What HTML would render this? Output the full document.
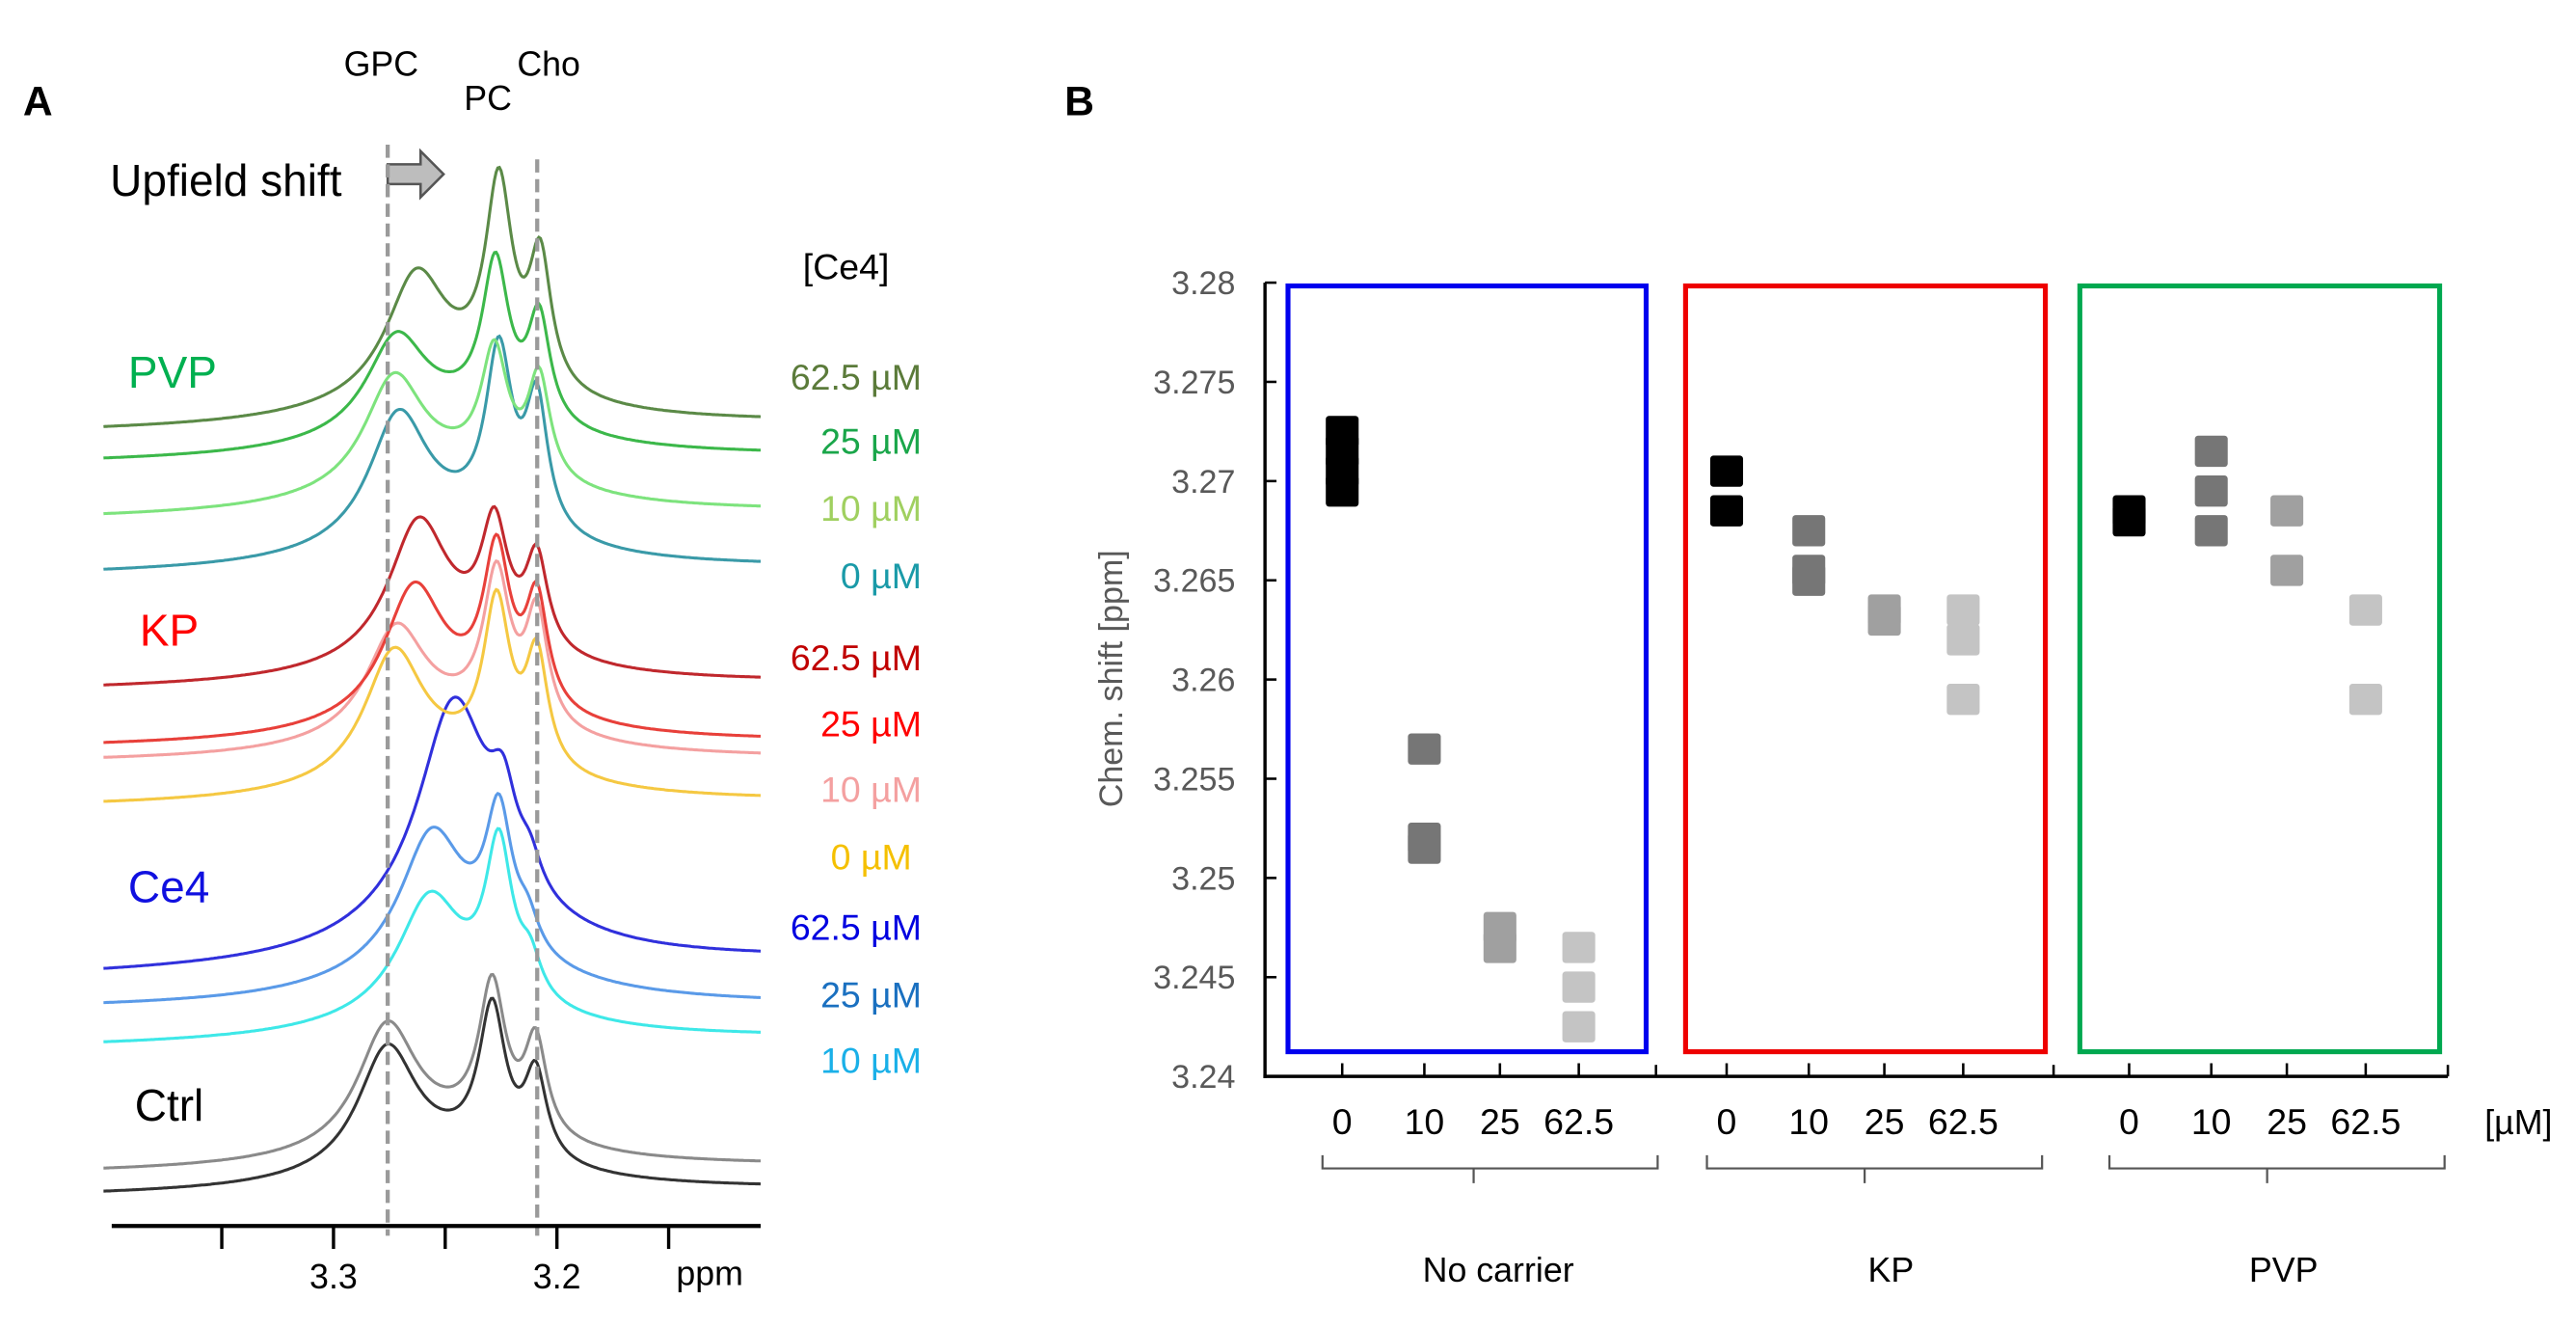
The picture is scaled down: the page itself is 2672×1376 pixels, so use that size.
<!DOCTYPE html>
<html><head><meta charset="utf-8"><style>
html,body{margin:0;padding:0;background:#fff;}
svg{display:block;font-family:"Liberation Sans",Arial,sans-serif;}
</style></head><body>
<svg id="fig" width="2672" height="1376" viewBox="0 0 1568 807.5" preserveAspectRatio="none" xmlns="http://www.w3.org/2000/svg">
<g id="panelA">
<text x="14" y="70" font-size="25" font-weight="bold">A</text>
<text x="232" y="46" font-size="21" text-anchor="middle">GPC</text>
<text x="297" y="67" font-size="21" text-anchor="middle">PC</text>
<text x="334" y="46" font-size="21" text-anchor="middle">Cho</text>
<text x="67" y="119" font-size="27">Upfield shift</text>
<polygon points="236,100 256,100 256,92 270,106 256,120 256,112 236,112" fill="#bdbdbd" stroke="#555" stroke-width="1.5"/>
<g id="spectra"></g>
<line x1="236" y1="88" x2="236" y2="752" stroke="#9a9a9a" stroke-width="2.5" stroke-dasharray="8,4"/>
<line x1="327" y1="97" x2="327" y2="752" stroke="#9a9a9a" stroke-width="2.5" stroke-dasharray="8,4"/>
<g id="axisA"></g>
<text x="515" y="170" font-size="22" text-anchor="middle">[Ce4]</text>
<g id="concLabels"></g>
<text x="78" y="236" font-size="27" fill="#00b050">PVP</text>
<text x="85" y="393" font-size="27" fill="#ff0000">KP</text>
<text x="78" y="549" font-size="27" fill="#1010e0">Ce4</text>
<text x="82" y="682" font-size="27" fill="#000">Ctrl</text>
</g>
<g id="panelB">
<text x="648" y="70" font-size="25" font-weight="bold">B</text>
<rect x="784" y="174" width="218" height="466" fill="none" stroke="#0000ee" stroke-width="3"/>
<rect x="1026" y="174" width="219" height="466" fill="none" stroke="#ee0000" stroke-width="3"/>
<rect x="1266" y="174" width="219" height="466" fill="none" stroke="#00a850" stroke-width="3"/>
<g id="axisB"></g>
<g id="marks"></g>
<text transform="translate(683,413) rotate(-90)" font-size="20" fill="#595959" text-anchor="middle">Chem. shift [ppm]</text>
<text x="1533" y="690" font-size="21" text-anchor="middle">[µM]</text>
</g>
</svg>
<script>
// ---------- Panel A data ----------
const specNames = ['pvp-62.5','pvp-25','pvp-10','pvp-0','kp-62.5','kp-25','kp-10','kp-0','ce4-62.5','ce4-25','ce4-10','ctrl-light','ctrl-dark'];
const specColors = ['#5b8a47','#3cb84a','#7de37d','#3a9aa8','#c0282d','#e8403a','#f4a0a0','#f5c842','#3030dc','#5a9ae8','#3ee8e8','#8a8a8a','#333333'];
const specBaseL = [263,282,316,350,420,455,464,491,594,614,637,714,728];
const specBaseR = [258,278,312,346,416,452,462,488,585,612,632,710,724];
const gpcPpm = [3.263,3.272,3.273,3.271,3.262,3.264,3.272,3.273,3.246,3.256,3.257,3.276,3.276];
const gpcH =   [70,56,66,76,80,76,64,76,130,76,66,74,74];
const pcPpm =  [3.226,3.2275,3.228,3.226,3.228,3.227,3.227,3.227,3.224,3.226,3.226,3.229,3.229];
const pcH =    [118,92,72,104,70,90,88,96,45,82,92,88,88];
const choPpm = [3.2075,3.208,3.208,3.209,3.209,3.209,3.209,3.209,3.212,3.213,3.212,3.2095,3.2095];
const choH =   [78,64,62,78,56,66,68,68,18,18,22,58,52];
const baseH =  [25,25,25,25,22,22,22,22,30,30,22,20,20];
const axisTicksA = [3.35,3.3,3.25,3.2,3.15];
const axisLabelsA = ['','3.3','','3.2',''];
const concText = ['62.5 µM','25 µM','10 µM','0 µM','62.5 µM','25 µM','10 µM','0 µM','62.5 µM','25 µM','10 µM'];
const concColors = ['#5b7b3a','#1aa64a','#a0d060','#1a9aa8','#c00000','#ff0000','#f4a0a0','#f5c000','#0000e0','#1a70c0','#1ab0e8'];
const concY = [229,268,309,350,400,440,480,521,564,605,645];

// ---------- Panel B data ----------
const groups = ['No carrier','KP','PVP'];
const concCats = ['0','10','25','62.5'];
const yTicksB = [3.24,3.245,3.25,3.255,3.26,3.265,3.27,3.275,3.28];
const yTickLabelsB = ['3.24','3.245','3.25','3.255','3.26','3.265','3.27','3.275','3.28'];
const ncVals = [[3.2725,3.2715,3.2705,3.2695],[3.2565,3.252,3.2515],[3.2475,3.2465],[3.2465,3.2445,3.2425]];
const kpVals = [[3.2705,3.2685],[3.2675,3.2655,3.265],[3.2635,3.263],[3.2635,3.262,3.259]];
const pvpVals = [[3.2685,3.268],[3.2715,3.2695,3.2675],[3.2685,3.2655],[3.2635,3.259]];
const catShades = ['#000000','#767676','#a0a0a0','#c4c4c4'];

const NS='http://www.w3.org/2000/svg';
function mk(tag, attrs, parent){const e=document.createElementNS(NS,tag);for(const k in attrs)e.setAttribute(k,attrs[k]);parent.appendChild(e);return e;}

// Panel A
const xA = p => 203 + (3.3 - p)*1360;
const lor = (p,c,w) => w*w/((p-c)*(p-c)+w*w);
const sg = document.getElementById('spectra');
for(let i=specNames.length-1;i>=0;i--){
  let d='';
  const N=400;
  for(let k=0;k<=N;k++){
    const x=63+k*(400/N);
    const p=3.3-(x-203)/1360;
    const base=specBaseL[i]+(specBaseR[i]-specBaseL[i])*(k/N);
    const wg = i===8 ? 0.019 : (i===9||i===10 ? 0.017 : 0.016);
    const v=baseH[i]*lor(p,3.245,0.05)+gpcH[i]*lor(p,gpcPpm[i],wg)+pcH[i]*lor(p,pcPpm[i],0.0072)+choH[i]*lor(p,choPpm[i],0.006);
    d+=(k?'L':'M')+x.toFixed(1)+','+(base-v).toFixed(1);
  }
  const path=mk('path',{d:d,fill:'none',stroke:specColors[i],'stroke-width':1.8},sg);
  
  
}
const ax=document.getElementById('axisA');
mk('line',{x1:68,y1:746,x2:463,y2:746,stroke:'#000','stroke-width':2.5},ax);
axisTicksA.forEach((t,i)=>{
  const tk=mk('line',{x1:xA(t),y1:746,x2:xA(t),y2:760,stroke:'#000','stroke-width':2},ax);
  
  
  if(axisLabelsA[i]){
    const tl=mk('text',{x:xA(t),y:784,'font-size':21,'text-anchor':'middle'},ax);
    tl.textContent=axisLabelsA[i];
    
    
  }
});
const ppmT=mk('text',{x:432,y:782,'font-size':21,'text-anchor':'middle'},ax);
ppmT.textContent='ppm';


const cl=document.getElementById('concLabels');
concText.forEach((t,i)=>{
  const e=mk('text',{x:i===7?555:561,y:concY[i]+8,'font-size':22,'text-anchor':'end',fill:concColors[i]},cl);
  e.textContent=t;
  
  
});

// Panel B
const yB = v => 655 - (v-3.24)/0.04*483;
const groupX0 = [817,1051,1296];
const catDx = [0,50,96,144];
const axB=document.getElementById('axisB');


mk('line',{x1:770,y1:172,x2:770,y2:656,stroke:'#000','stroke-width':2},axB);
mk('line',{x1:769,y1:655,x2:1490,y2:655,stroke:'#000','stroke-width':2},axB);
yTicksB.forEach((t,i)=>{
  mk('line',{x1:770,y1:yB(t),x2:777,y2:yB(t),stroke:'#000','stroke-width':1.5},axB);
  const e=mk('text',{x:752,y:yB(t)+7,'font-size':20,'text-anchor':'end',fill:'#595959'},axB);
  e.textContent=yTickLabelsB[i];
  
  
});
[1008,1250,1490].forEach(x=>mk('line',{x1:x,y1:648,x2:x,y2:655,stroke:'#000','stroke-width':1.5},axB));
const allVals=[ncVals,kpVals,pvpVals];
const marks=document.getElementById('marks');
groups.forEach((g,gi)=>{
  concCats.forEach((c,ci)=>{
    const cx=groupX0[gi]+catDx[ci];
    mk('line',{x1:cx,y1:647,x2:cx,y2:655,stroke:'#000','stroke-width':1.5},axB);
    const tl=mk('text',{x:cx,y:690,'font-size':22,'text-anchor':'middle'},axB);
    tl.textContent=c;
    
    
    allVals[gi][ci].forEach(v=>{
      const r=mk('rect',{x:cx-10,y:yB(v)-9.5,width:20,height:19,rx:2,fill:catShades[ci]},marks);
      
      
    });
  });
  const bx0=groupX0[gi]-12, bx1=groupX0[gi]+192, bm=(bx0+bx1)/2+(gi===0?-10:-6);
  const br=mk('path',{d:`M${bx0},703 L${bx0},711 L${bx1},711 L${bx1},703 M${bm},711 L${bm},720`,fill:'none',stroke:'#555','stroke-width':1.3},axB);
  
  
  const gl=mk('text',{x:[912,1151,1390][gi],y:780,'font-size':21,'text-anchor':'middle'},axB);
  gl.textContent=g;
  
  
});
</script>
</body></html>
